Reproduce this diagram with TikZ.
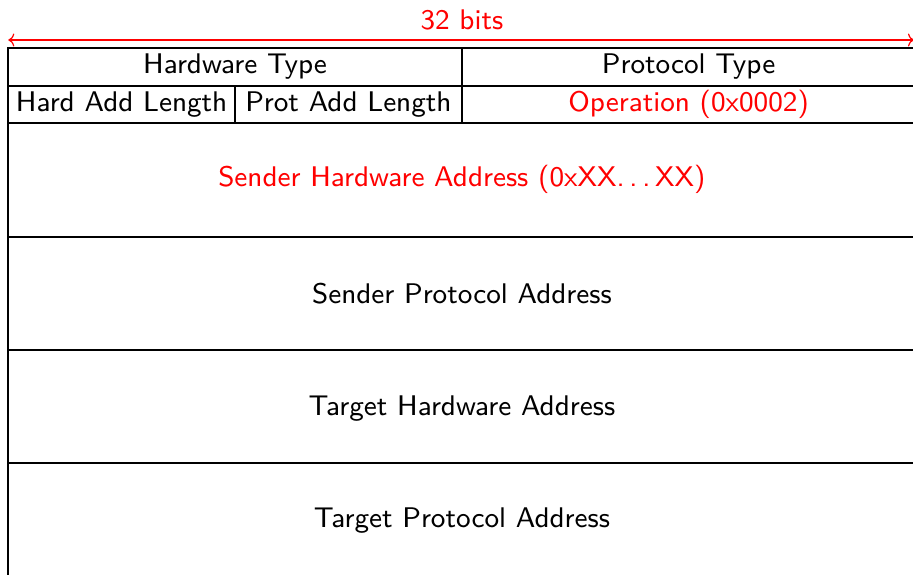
\documentclass[tikz,border=0pt]{standalone}
\usepackage{fontspec}
\newfontfamily\lmsansnine{lmsans9-regular}[Extension=.otf]
\usetikzlibrary{arrows.meta}
\begin{document}
\begin{tikzpicture}[x=1pt,y=-1pt,
  grid/.style={draw=black,line width=2pt},
  lbl/.style={font=\lmsansnine\fontsize{28.4}{34}\selectfont,anchor=base,inner sep=0pt},
  hl/.style={text=red},
  span/.style={draw=red,line width=1.2pt,{To[length=6pt,width=13pt]}-{To[length=6pt,width=13pt]}}]
\useasboundingbox (0,0) rectangle (913,575);
\clip (0,0) rectangle (913,575);
% coordinates
\coordinate (TL) at (8.3,48.3);
\coordinate (BR) at (915.5,576.6);
\coordinate (aL) at (8.3,40);
\coordinate (aR) at (914,40);
% width arrow
\draw[span] (aL) -- (aR);
\node[lbl,hl] (bits) at (461.9,29.3) {32 bits};
% grid
\draw[grid] (TL) rectangle (BR);
\foreach \y in {86,123.3,236.7,350,463.3}
  \draw[grid] (8.3,\y) -- (915.5,\y);
\draw[grid] (461.7,48.3) -- (461.7,123.3);
\draw[grid] (235,86) -- (235,123.3);
% labels
\node[lbl] (hwtype) at (235,73.5) {Hardware Type};
\node[lbl] (prtype) at (688.6,73.5) {Protocol Type};
\node[lbl] (hlen) at (121.6,111.3) {Hard Add Length};
\node[lbl] (plen) at (348.4,111.3) {Prot Add Length};
\node[lbl,hl] (op) at (688.6,111.3) {Operation (0x0002)};
\node[lbl,hl] (sha) at (461.9,186.7) {Sender Hardware Address (0xXX.\kern.1667em.\kern.1667em.\kern.1667em XX)};
\node[lbl] (spa) at (461.9,303.3) {Sender Protocol Address};
\node[lbl] (tha) at (461.9,415.3) {Target Hardware Address};
\node[lbl] (tpa) at (461.9,527.3) {Target Protocol Address};
\end{tikzpicture}
\end{document}
